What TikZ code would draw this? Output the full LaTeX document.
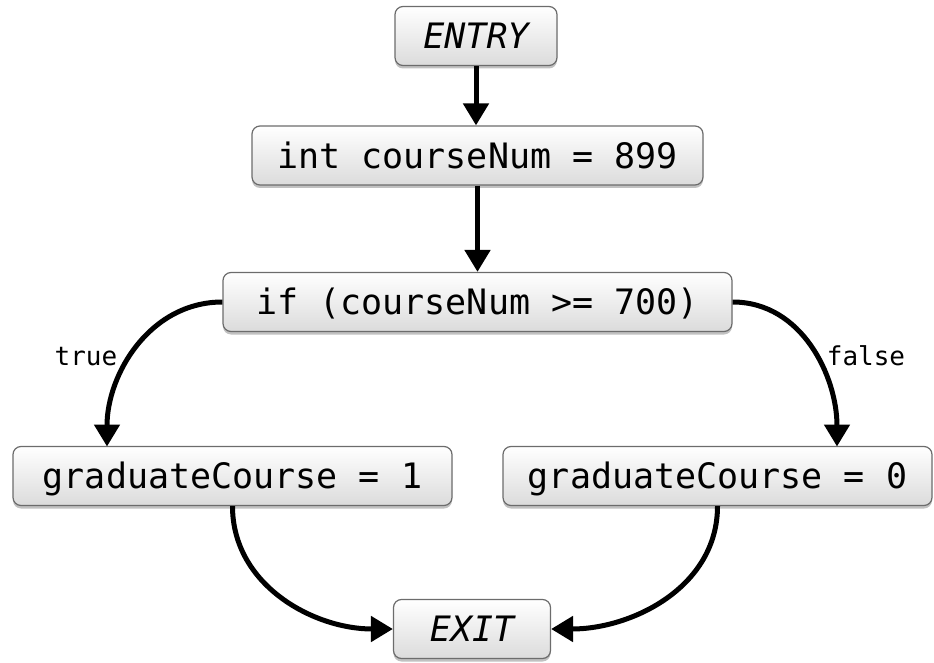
\documentclass[tikz,border=0pt]{standalone}
\usepackage{fontspec}
\setmonofont{DejaVu Sans Mono}
\usetikzlibrary{arrows.meta,shadows}

\tikzset{
  box/.style={
    draw=gray!85!black, line width=1.2pt, rounded corners=8pt,
    top color=white, bottom color=gray!28,
    drop shadow={shadow xshift=0pt, shadow yshift=-3pt, opacity=0.35, fill=black!70},
    minimum height=59pt, inner sep=0pt,
    font=\ttfamily\fontsize{35}{40}\selectfont,
    text height=25.5pt, text depth=0pt, align=center
  },
  lbl/.style={font=\ttfamily\fontsize{26}{30}\selectfont, inner sep=0pt},
  flow/.style={line width=5pt, -{Triangle[length=22pt,width=25pt]}}
}

\begin{document}
\begin{tikzpicture}[x=1pt,y=-1pt]
  \useasboundingbox (0,0) rectangle (934,663);

  % statements of the control-flow graph
  \node[box, minimum width=162pt] (entry) at (476,36) {\itshape ENTRY};
  \node[box, minimum width=451pt] (decl)  at (477.5,155.5) {int courseNum = 899};
  \node[box, minimum width=509pt] (cond)  at (477.5,302) {if (courseNum >= 700)};
  \node[box, minimum width=439pt] (grad1) at (232.5,476) {graduateCourse = 1};
  \node[box, minimum width=429pt] (grad0) at (717.5,476) {graduateCourse = 0};
  \node[box, minimum width=157pt] (exit)  at (472,629) {\itshape EXIT};

  % edges
  \draw[flow] (entry.south) -- (entry.south |- decl.north);
  \draw[flow] (decl) -- (cond);
  \draw[flow] (cond.west) to[out=180,in=90] (107,446.5) coordinate (t1);
  \draw[flow] (cond.east) to[out=0,in=90] (837,446.5) coordinate (t0);
  \draw[flow] (grad1.south) to[out=-90,in=180] (exit.west);
  \draw[flow] (grad0.south) to[out=-90,in=0] (exit.east);

  % branch labels
  \node[lbl] (ltrue)  at (86,357) {true};
  \node[lbl] (lfalse) at (866,356) {false};
\end{tikzpicture}
\end{document}
